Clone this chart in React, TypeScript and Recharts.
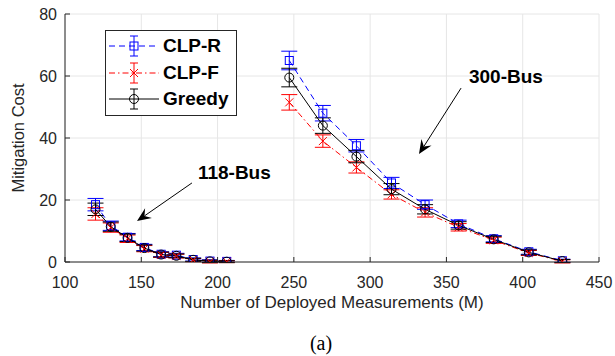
import React from "react"
import {
  ComposedChart,
  Line,
  XAxis,
  YAxis,
  CartesianGrid,
  ErrorBar,
  ReferenceLine,
  ReferenceDot,
  Legend,
} from "recharts"

// deployed measurements (M) for each test system
const bus118M = [120, 130, 141, 152, 163, 173, 184, 195, 206]
const bus300M = [247, 269, 291, 314, 336, 358, 381, 404, 426]

// mitigation cost, 118-bus
const clpR118 = [18.5, 11.7, 8, 4.7, 2.5, 2.2, 0.8, 0.3, 0.2]
const clpF118 = [15.5, 11.1, 7.5, 4.3, 2.3, 1.9, 0.6, 0.1, 0.1]
const greedy118 = [17, 11.4, 7.8, 4.5, 2.4, 2.0, 0.7, 0.2, 0.1]
const err118 = [2, 1.5, 1.2, 1, 0.8, 0.6, 0.5, 0.4, 0.3]

// mitigation cost, 300-bus
const clpR300 = [65, 48, 37.5, 25.5, 18.5, 12.3, 7.5, 3.3, 0.4]
const clpF300 = [51.5, 39, 30.5, 21.8, 16, 11.2, 7, 2.9, 0.2]
const greedy300 = [59.5, 44, 34, 23.5, 17, 11.8, 7.3, 3.1, 0.3]
const errR300 = [3, 2.5, 2, 1.8, 1.5, 1.2, 1, 0.8, 0.5]
const errF300 = [2.5, 2, 1.8, 1.5, 1.5, 1.2, 1, 0.8, 0.5]
const errG300 = [3, 2.5, 2, 1.8, 1.5, 1.2, 1, 0.8, 0.5]

const xTicks = [100, 150, 200, 250, 300, 350, 400, 450]
const yTicks = [0, 20, 40, 60, 80]

// annotations: label position and arrow [from, to] in data units
const label300 = { x: 389, y: 60, text: "300-Bus" }
const arrow300 = [{ x: 359.6, y: 56.1 }, { x: 332, y: 34.8 }]
const label118 = { x: 211, y: 29, text: "118-Bus" }
const arrow118 = [{ x: 183.2, y: 25.5 }, { x: 147.2, y: 13.2 }]

const SANS = "'Liberation Sans', Arial, Helvetica, sans-serif"
const AX = "#262626"

const toRows = (m: number[], v: number[], e: number[]) =>
  m.map((x, i) => ({ m: x, v: v[i], e: e[i] }))

const series = [
  { name: "CLP-R", color: "#0000ff", dash: "6 4", kind: "square", d118: toRows(bus118M, clpR118, err118), d300: toRows(bus300M, clpR300, errR300) },
  { name: "CLP-F", color: "#ff0000", dash: "6 3 1.5 3", kind: "x", d118: toRows(bus118M, clpF118, err118), d300: toRows(bus300M, clpF300, errF300) },
  { name: "Greedy", color: "#000000", dash: undefined, kind: "circle", d118: toRows(bus118M, greedy118, err118), d300: toRows(bus300M, greedy300, errG300) },
]

function Marker({ cx, cy, kind, color }: any) {
  if (cx == null || cy == null) return null
  if (kind === "square")
    return <rect x={cx - 4} y={cy - 4} width={8} height={8} fill="none" stroke={color} strokeWidth={1} />
  if (kind === "x")
    return (
      <path
        d={`M${cx - 4},${cy - 4}L${cx + 4},${cy + 4}M${cx - 4},${cy + 4}L${cx + 4},${cy - 4}`}
        stroke={color}
        strokeWidth={1}
      />
    )
  return <circle cx={cx} cy={cy} r={4.5} fill="none" stroke={color} strokeWidth={1} />
}

function Arrow(props: any) {
  const { x1, y1, x2, y2 } = props
  if ([x1, y1, x2, y2].some((v) => v == null)) return null
  const a = Math.atan2(y2 - y1, x2 - x1)
  const c = Math.cos(a)
  const s = Math.sin(a)
  const len = 14
  const w = 6
  const bx = x2 - len * c
  const by = y2 - len * s
  const nx = x2 - len * 0.65 * c
  const ny = y2 - len * 0.65 * s
  const pts = `${x2},${y2} ${bx - w * s},${by + w * c} ${nx},${ny} ${bx + w * s},${by - w * c}`
  return (
    <g>
      <line x1={x1} y1={y1} x2={nx} y2={ny} stroke="#000" strokeWidth={1} />
      <polygon points={pts} fill="#000" />
    </g>
  )
}

const annotText = (text: string) => (p: any) =>
  p.cx == null ? null : (
    <text
      x={p.cx}
      y={p.cy}
      textAnchor="middle"
      dominantBaseline="central"
      fontFamily={SANS}
      fontWeight="bold"
      fontSize={19}
      fill="#000"
    >
      {text}
    </text>
  )

function LegendBox() {
  return (
    <div
      style={{
        border: `1px solid ${AX}`,
        background: "#fff",
        padding: "2px 8px 2px 0",
        fontFamily: SANS,
        fontWeight: "bold",
        fontSize: 19,
        color: "#000",
      }}
    >
      {series.map((s) => (
        <div key={s.name} style={{ display: "flex", alignItems: "center", height: 26.5 }}>
          <svg width={57} height={26} style={{ display: "block" }}>
            <line x1={3} y1={13} x2={53} y2={13} stroke={s.color} strokeDasharray={s.dash} />
            <line x1={28} y1={3} x2={28} y2={23} stroke={s.color} />
            <line x1={24} y1={3} x2={32} y2={3} stroke={s.color} />
            <line x1={24} y1={23} x2={32} y2={23} stroke={s.color} />
            <Marker cx={28} cy={13} kind={s.kind} color={s.color} />
          </svg>
          <span style={{ lineHeight: "26px" }}>{s.name}</span>
        </div>
      ))}
    </div>
  )
}

export default function App() {
  const lines: React.ReactNode[] = []
  series.forEach((s) => {
    ;[s.d118, s.d300].forEach((d, k) => {
      lines.push(
        <Line
          key={`${s.name}-${k}`}
          data={d}
          dataKey="v"
          type="linear"
          stroke={s.color}
          strokeWidth={1}
          strokeDasharray={s.dash}
          isAnimationActive={false}
          legendType="none"
          dot={(p: any) => (
            <Marker key={`${s.name}-${k}-${p.index}`} cx={p.cx} cy={p.cy} kind={s.kind} color={s.color} />
          )}
          activeDot={false}
        >
          <ErrorBar dataKey="e" width={8} stroke={s.color} strokeWidth={1} direction="y" isAnimationActive={false} />
        </Line>
      )
    })
  })

  return (
    <div style={{ position: "absolute", left: 0, top: 0, width: 615, height: 356, background: "#fff" }}>
      <ComposedChart width={615} height={356} margin={{ top: 14, right: 16, bottom: 0, left: 0 }}>
        <CartesianGrid stroke="#e6e6e6" strokeWidth={1} />
        <XAxis
          dataKey="m"
          type="number"
          domain={[100, 450]}
          ticks={xTicks}
          allowDataOverflow
          height={94}
          stroke={AX}
          tickSize={-5}
          tickMargin={19.5}
          tick={{ fill: AX, fontSize: 16, fontFamily: SANS }}
        />
        <XAxis
          xAxisId="top"
          orientation="top"
          type="number"
          domain={[100, 450]}
          ticks={xTicks}
          height={0}
          stroke={AX}
          tickSize={-5}
          tick={false}
        />
        <YAxis
          type="number"
          domain={[0, 80]}
          ticks={yTicks}
          allowDataOverflow
          width={65}
          stroke={AX}
          tickSize={-5}
          tickMargin={13}
          tick={{ fill: AX, fontSize: 16, fontFamily: SANS }}
        />
        <YAxis
          yAxisId="right"
          orientation="right"
          type="number"
          domain={[0, 80]}
          ticks={yTicks}
          width={0}
          stroke={AX}
          tickSize={-5}
          tick={false}
        />
        {lines}
        <ReferenceLine segment={arrow300} shape={Arrow} ifOverflow="visible" />
        <ReferenceLine segment={arrow118} shape={Arrow} ifOverflow="visible" />
        <ReferenceDot x={label300.x} y={label300.y} r={0} shape={annotText(label300.text)} ifOverflow="visible" />
        <ReferenceDot x={label118.x} y={label118.y} r={0} shape={annotText(label118.text)} ifOverflow="visible" />
        <Legend
          layout="horizontal"
          verticalAlign="middle"
          align="center"
          wrapperStyle={{ left: 105, top: 30, width: "auto" }}
          content={() => <LegendBox />}
        />
      </ComposedChart>
      <div
        style={{
          position: "absolute",
          left: 65,
          width: 534,
          top: 292,
          textAlign: "center",
          fontFamily: SANS,
          fontSize: 17,
          color: AX,
          lineHeight: "22px",
        }}
      >
        Number of Deployed Measurements (M)
      </div>
      <div
        style={{
          position: "absolute",
          left: 18,
          top: 138,
          transform: "translate(-50%, -50%) rotate(-90deg)",
          whiteSpace: "nowrap",
          fontFamily: SANS,
          fontSize: 16.5,
          color: AX,
          lineHeight: "20px",
        }}
      >
        Mitigation Cost
      </div>
      <div
        style={{
          position: "absolute",
          left: 221,
          width: 200,
          top: 331,
          textAlign: "center",
          fontFamily: "'Liberation Serif', 'Times New Roman', serif",
          fontSize: 20,
          color: "#000",
          lineHeight: "24px",
        }}
      >
        (a)
      </div>
    </div>
  )
}
